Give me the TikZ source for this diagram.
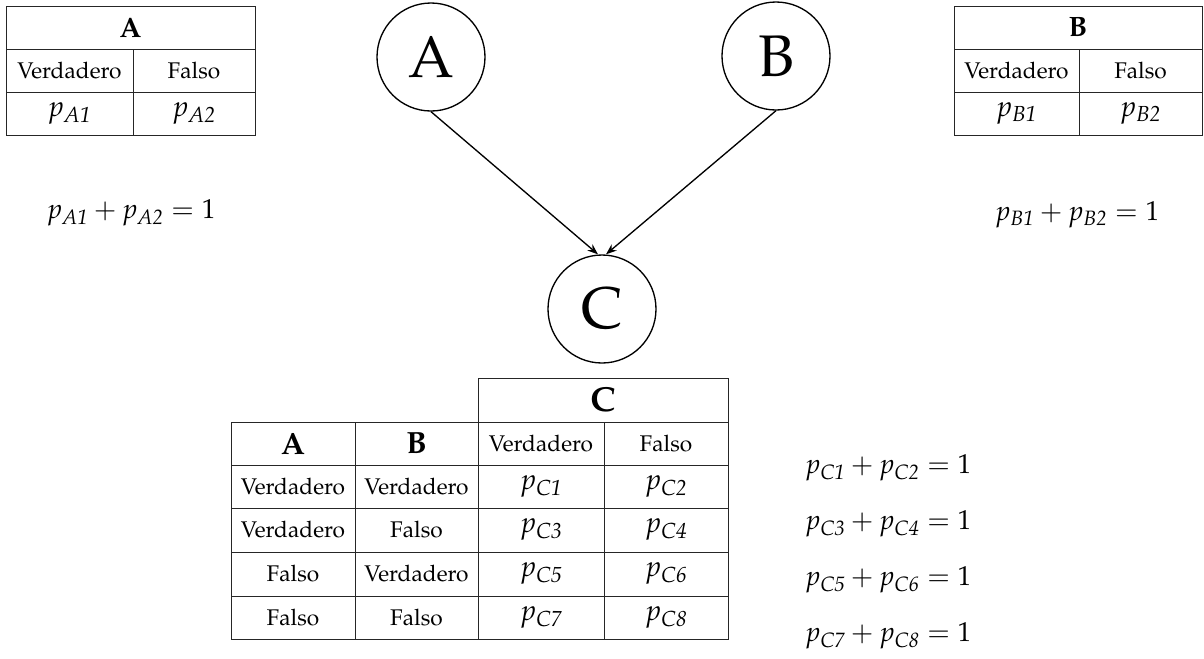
\documentclass[tikz,border=0pt]{standalone}
\usepackage[T1]{fontenc}
\usepackage{mathpazo}
\usetikzlibrary{arrows.meta}
\newcommand\tabfont{\fontsize{17}{20}\selectfont}
\newcommand\mathfnt{\fontsize{21.5}{24}\selectfont}
\newcommand\eqfont{\fontsize{20.5}{24}\selectfont}
\newcommand\circfont{\fontsize{44}{48}\selectfont}
\begin{document}
\begin{tikzpicture}[x=0.75pt,y=-0.75pt,
  cell/.style 2 args={draw=black!85, line width=0.75pt, minimum width=#1*0.75pt, minimum height=#2*0.75pt, inner sep=0pt, font=\tabfont},
  hdsmall/.style={font=\fontsize{21}{24}\selectfont\bfseries},
  hdbig/.style={font=\fontsize{23}{26}\selectfont\bfseries},
  hdC/.style={font=\fontsize{26}{29}\selectfont\bfseries},
  var/.style={draw, circle, line width=1pt, minimum size=108*0.75pt, inner sep=0pt, font=\circfont},
  eq/.style={font=\eqfont, inner sep=0pt},
  link/.style={-{Stealth[length=8pt,width=6pt]}, line width=1pt}
]
\useasboundingbox (0,0) rectangle (1204,658);

% ---- table A ----
\node[cell={249}{43}, hdsmall] (tAh) at (130.5,27.5) {A};
\node[cell={127}{43}] (tAv) at (69.5,70.5) {Verdadero};
\node[cell={122}{43}] (tAf) at (194,70.5) {Falso};
\node[cell={127}{43}] (tAp1) at (69.5,113.5) {\mathfnt$p_{\mathit{A1}}$};
\node[cell={122}{43}] (tAp2) at (194,113.5) {\mathfnt$p_{\mathit{A2}}$};

% ---- table B ----
\node[cell={248}{43}, hdsmall] (tBh) at (1078,27.5) {B};
\node[cell={125}{43}] (tBv) at (1016.5,70.5) {Verdadero};
\node[cell={123}{43}] (tBf) at (1140.5,70.5) {Falso};
\node[cell={125}{43}] (tBp1) at (1016.5,113.5) {\mathfnt$p_{\mathit{B1}}$};
\node[cell={123}{43}] (tBp2) at (1140.5,113.5) {\mathfnt$p_{\mathit{B2}}$};

% ---- sums ----
\node[eq] (sA) at (131,213) {$p_{\mathit{A1}}+p_{\mathit{A2}}=1$};
\node[eq] (sB) at (1077,215) {$p_{\mathit{B1}}+p_{\mathit{B2}}=1$};

% ---- network ----
\node[var] (cA) at (431,57) {A};
\node[var] (cB) at (776,56) {B};
\node[var] (cC) at (602,309) {C};
\draw[link] (cA.south) -- ([xshift=-3pt]cC.north);
\draw[link] (cB.south) -- ([xshift=3pt]cC.north);

% ---- table C ----
\node[cell={250}{44}, hdC] (tCh) at (603,400) {C};
\node[cell={124}{43}, hdbig] (tCa) at (293,443.5) {A};
\node[cell={123}{43}, hdbig] (tCb) at (416.5,443.5) {B};
\node[cell={126}{43}] (tCv) at (541,443.5) {Verdadero};
\node[cell={124}{43}] (tCf) at (666,443.5) {Falso};

\node[cell={124}{43}] (r1a) at (293,486.5) {Verdadero};
\node[cell={123}{43}] (r1b) at (416.5,486.5) {Verdadero};
\node[cell={126}{43}] (r1v) at (541,486.5) {\mathfnt$p_{\mathit{C1}}$};
\node[cell={124}{43}] (r1f) at (666,486.5) {\mathfnt$p_{\mathit{C2}}$};

\node[cell={124}{44}] (r2a) at (293,530) {Verdadero};
\node[cell={123}{44}] (r2b) at (416.5,530) {Falso};
\node[cell={126}{44}] (r2v) at (541,530) {\mathfnt$p_{\mathit{C3}}$};
\node[cell={124}{44}] (r2f) at (666,530) {\mathfnt$p_{\mathit{C4}}$};

\node[cell={124}{44}] (r3a) at (293,574) {Falso};
\node[cell={123}{44}] (r3b) at (416.5,574) {Verdadero};
\node[cell={126}{44}] (r3v) at (541,574) {\mathfnt$p_{\mathit{C5}}$};
\node[cell={124}{44}] (r3f) at (666,574) {\mathfnt$p_{\mathit{C6}}$};

\node[cell={124}{43}] (r4a) at (293,617.5) {Falso};
\node[cell={123}{43}] (r4b) at (416.5,617.5) {Falso};
\node[cell={126}{43}] (r4v) at (541,617.5) {\mathfnt$p_{\mathit{C7}}$};
\node[cell={124}{43}] (r4f) at (666,617.5) {\mathfnt$p_{\mathit{C8}}$};

\node[eq] (s1) at (888,468) {$p_{\mathit{C1}}+p_{\mathit{C2}}=1$};
\node[eq] (s2) at (888,524) {$p_{\mathit{C3}}+p_{\mathit{C4}}=1$};
\node[eq] (s3) at (888,580) {$p_{\mathit{C5}}+p_{\mathit{C6}}=1$};
\node[eq] (s4) at (888,636) {$p_{\mathit{C7}}+p_{\mathit{C8}}=1$};
\end{tikzpicture}
\end{document}
